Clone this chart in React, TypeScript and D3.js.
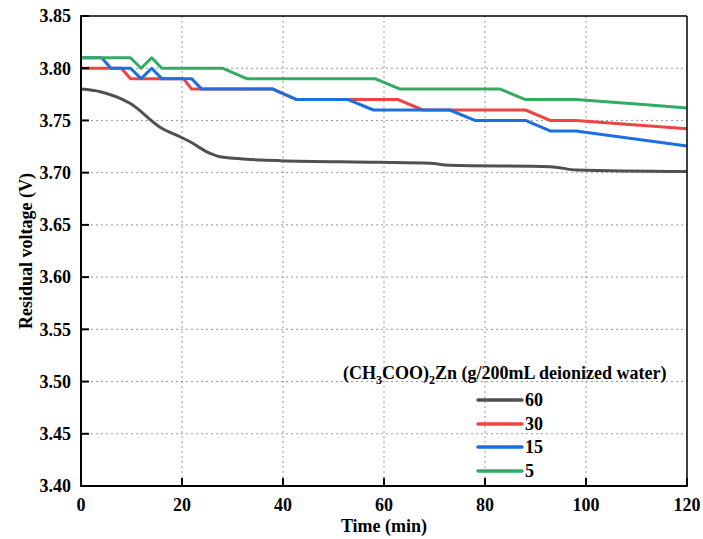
import React from "react";
import * as d3 from "d3";

const xTicks = [0, 20, 40, 60, 80, 100, 120];
const yTicks = [3.4, 3.45, 3.5, 3.55, 3.6, 3.65, 3.7, 3.75, 3.8, 3.85];

const seriesNames = ["60", "30", "15", "5"];
const seriesColors = ["#505050", "#f04343", "#1c6fe0", "#33ab63"];

const t60 = [0, 3.8, 9.7, 16, 19.6, 21.6, 24.9, 28.2, 39.4, 59.2, 69.1, 73, 92.9, 98.2, 120];
const v60 = [3.78, 3.7775, 3.7664, 3.7425, 3.7344, 3.7296, 3.72, 3.7147, 3.7115, 3.71, 3.709, 3.707, 3.7057, 3.7025, 3.701];

const t30 = [0, 8, 9.8, 20.3, 21.9, 38, 42.7, 62.8, 67.7, 88, 92.9, 98, 120];
const v30 = [3.8, 3.8, 3.79, 3.79, 3.78, 3.78, 3.77, 3.77, 3.76, 3.76, 3.75, 3.75, 3.742];

const t15 = [0, 4.1, 5.9, 9.8, 11.9, 14, 16, 21.9, 23.9, 38, 42.7, 52.9, 57.9, 73, 78, 88, 92.9, 98, 120];
const v15 = [3.81, 3.81, 3.8, 3.8, 3.79, 3.8, 3.79, 3.79, 3.78, 3.78, 3.77, 3.77, 3.76, 3.76, 3.75, 3.75, 3.74, 3.74, 3.7255];

const t5 = [0, 9.8, 11.9, 14, 16, 28, 32.8, 58.2, 63.2, 83, 88, 98, 112, 120];
const v5 = [3.81, 3.81, 3.8, 3.81, 3.8, 3.8, 3.79, 3.79, 3.78, 3.78, 3.77, 3.77, 3.765, 3.762];

const seriesT = [t60, t30, t15, t5];
const seriesV = [v60, v30, v15, v5];

export default function App() {
  const W = 703, H = 539;
  const left = 81, right = 687, top = 16, bottom = 486;
  const x = d3.scaleLinear().domain([0, 120]).range([left, right]);
  const y = d3.scaleLinear().domain([3.4, 3.85]).range([bottom, top]);
  const font = "'Liberation Serif', 'Times New Roman', serif";

  const lines = seriesT.map((ts, i) => {
    const pts = ts.map((t, j) => [t, seriesV[i][j]] as [number, number]);
    const gen = d3.line<[number, number]>()
      .x(d => x(d[0]))
      .y(d => y(d[1]))
      .curve(i === 0 ? d3.curveMonotoneX : d3.curveLinear);
    return gen(pts) || "";
  });

  const legendX1 = 478, legendX2 = 522;
  const legendY = [400, 424, 447, 471];

  return (
    <svg width={W} height={H} style={{ position: "absolute", left: 0, top: 0, background: "#fff" }} fontFamily={font} fontWeight="bold">
      <rect x={0} y={0} width={W} height={H} fill="#fff" />
      {/* grid */}
      {xTicks.slice(1, -1).map(t => (
        <line key={"gx" + t} x1={x(t)} x2={x(t)} y1={top} y2={bottom} stroke="#999" strokeWidth={1} strokeDasharray="2,3" />
      ))}
      {yTicks.slice(1, -1).map(t => (
        <line key={"gy" + t} x1={left} x2={right} y1={y(t)} y2={y(t)} stroke="#999" strokeWidth={1} strokeDasharray="2,3" />
      ))}
      {/* lines */}
      {lines.map((d, i) => (
        <path key={"l" + i} d={d} fill="none" stroke={seriesColors[i]} strokeWidth={3} strokeLinejoin="round" />
      ))}
      {/* frame */}
      <line x1={left} x2={right} y1={top} y2={top} stroke="#000" strokeWidth={1.5} />
      <line x1={right} x2={right} y1={top} y2={bottom} stroke="#000" strokeWidth={1.5} />
      <line x1={left} x2={left} y1={top - 0.75} y2={bottom + 1} stroke="#000" strokeWidth={2} />
      <line x1={left - 1} x2={right + 0.75} y1={bottom} y2={bottom} stroke="#000" strokeWidth={2} />
      {/* y ticks */}
      {yTicks.map(t => (
        <g key={"yt" + t}>
          <line x1={left} x2={left + 8} y1={y(t)} y2={y(t)} stroke="#000" strokeWidth={2} />
          <text x={left - 10} y={y(t)} dy="0.35em" textAnchor="end" fontSize={18}>{t.toFixed(2)}</text>
        </g>
      ))}
      {/* x ticks */}
      {xTicks.map(t => (
        <g key={"xt" + t}>
          <line x1={x(t)} x2={x(t)} y1={bottom} y2={bottom - 8} stroke="#000" strokeWidth={2} />
          <text x={x(t)} y={511} textAnchor="middle" fontSize={18}>{t}</text>
        </g>
      ))}
      {/* axis titles */}
      <text x={384} y={532} textAnchor="middle" fontSize={18}>Time (min)</text>
      <text transform={`translate(32,${(top + bottom) / 2}) rotate(-90)`} textAnchor="middle" fontSize={18}>Residual voltage (V)</text>
      {/* legend */}
      <text x={343} y={379} fontSize={18}>
        (CH<tspan fontSize={12} dy={5}>3</tspan><tspan dy={-5}>COO)</tspan><tspan fontSize={12} dy={5}>2</tspan><tspan dy={-5}>Zn (g/200mL deionized water)</tspan>
      </text>
      {seriesNames.map((n, i) => (
        <g key={"lg" + n}>
          <line x1={legendX1} x2={legendX2} y1={legendY[i]} y2={legendY[i]} stroke={seriesColors[i]} strokeWidth={3.5} strokeLinecap="round" />
          <text x={legendX2 + 3} y={legendY[i]} dy="0.35em" fontSize={18}>{n}</text>
        </g>
      ))}
    </svg>
  );
}
